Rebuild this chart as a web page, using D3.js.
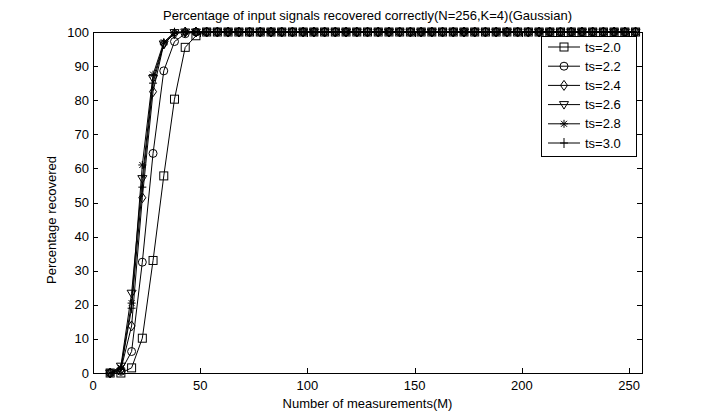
<!DOCTYPE html>
<html><head><meta charset="utf-8">
<script src="https://cdn.jsdelivr.net/npm/d3@7"></script>
<style>
body{margin:0;background:#fff;}
text{font-family:"Liberation Sans",Arial,sans-serif;font-size:13px;fill:#000;}
</style></head>
<body><svg id="c" width="712" height="420"></svg>
<script>
const measurements = [8,13,18,23,28,33,38,43,48,53,58,63,68,73,78,83,88,93,98,103,108,113,118,123,128,133,138,143,148,153,158,163,168,173,178,183,188,193,198,203,208,213,218,223,228,233,238,243,248,253];
const tail = n => Array(n).fill(100);
const ts20 = [0,0,1.5,10.2,33,57.8,80.3,95.5,98.9,100].concat(tail(40));
const ts22 = [0,0.5,6.3,32.5,64.4,88.6,97.2,99.5,100].concat(tail(41));
const ts24 = [0,1,13.8,51.4,82.5,96.5,99.5,100].concat(tail(42));
const ts26 = [0,2,23.4,57,86.4,96.5,99.8,100].concat(tail(42));
const ts28 = [0,1.5,20.5,61,87.5,97,100].concat(tail(43));
const ts30 = [0,1,19,54.5,85,96.5,99.8,100].concat(tail(42));
const seriesNames = ["ts=2.0","ts=2.2","ts=2.4","ts=2.6","ts=2.8","ts=3.0"];
const seriesValues = [ts20,ts22,ts24,ts26,ts28,ts30];
const markerTypes = ["square","circle","diamond","triangle","asterisk","plus"];
const xTicks = [0,50,100,150,200,250];
const yTicks = [0,10,20,30,40,50,60,70,80,90,100];
const titleText = "Percentage of input signals recovered correctly(N=256,K=4)(Gaussian)";
const xLabel = "Number of measurements(M)";
const yLabel = "Percentage recovered";

const L=93,R=642,T=32,B=373;
const svg=d3.select("#c");
const x=d3.scaleLinear().domain([0,256]).range([L,R]);
const y=d3.scaleLinear().domain([0,100]).range([B,T]);

const ax=svg.append("g").attr("shape-rendering","crispEdges");
ax.append("rect").attr("x",L+0.5).attr("y",T+0.5).attr("width",R-L).attr("height",B-T)
  .attr("fill","none").attr("stroke","#000");
const tl=5;
xTicks.forEach(t=>{
  const px=Math.round(x(t))+0.5;
  ax.append("line").attr("x1",px).attr("x2",px).attr("y1",B).attr("y2",B-tl).attr("stroke","#000");
  ax.append("line").attr("x1",px).attr("x2",px).attr("y1",T).attr("y2",T+tl).attr("stroke","#000");
  svg.append("text").attr("x",x(t)).attr("y",B+17).attr("text-anchor","middle").text(t);
});
yTicks.forEach(t=>{
  const py=Math.round(y(t))+0.5;
  ax.append("line").attr("x1",L).attr("x2",L+tl).attr("y1",py).attr("y2",py).attr("stroke","#000");
  ax.append("line").attr("x1",R).attr("x2",R-tl).attr("y1",py).attr("y2",py).attr("stroke","#000");
  svg.append("text").attr("x",L-4).attr("y",y(t)+4.5).attr("text-anchor","end").text(t);
});

function marker(g,type,cx,cy){
  const s="#000";
  if(type==="square") g.append("rect").attr("x",cx-4).attr("y",cy-4).attr("width",8).attr("height",8).attr("fill","none").attr("stroke",s);
  else if(type==="circle") g.append("circle").attr("cx",cx).attr("cy",cy).attr("r",4).attr("fill","none").attr("stroke",s);
  else if(type==="diamond") g.append("path").attr("d",`M${cx},${cy-5}L${cx+3.5},${cy}L${cx},${cy+5}L${cx-3.5},${cy}Z`).attr("fill","none").attr("stroke",s);
  else if(type==="triangle") g.append("path").attr("d",`M${cx-4.5},${cy-3}L${cx+4.5},${cy-3}L${cx},${cy+4.5}Z`).attr("fill","none").attr("stroke",s);
  else if(type==="asterisk") g.append("path").attr("d",`M${cx-4},${cy}H${cx+4}M${cx},${cy-4}V${cy+4}M${cx-3},${cy-3}L${cx+3},${cy+3}M${cx-3},${cy+3}L${cx+3},${cy-3}`).attr("fill","none").attr("stroke",s);
  else if(type==="plus") g.append("path").attr("d",`M${cx-4},${cy}H${cx+4}M${cx},${cy-5}V${cy+5}`).attr("fill","none").attr("stroke",s);
}

const line=d3.line().x((d,i)=>x(measurements[i])).y(d=>y(d));
seriesValues.forEach((vals,k)=>{
  const g=svg.append("g");
  g.append("path").datum(vals).attr("d",line).attr("fill","none").attr("stroke","#000").attr("stroke-width",1);
  vals.forEach((v,i)=>marker(g,markerTypes[k],x(measurements[i]),y(v)));
});

const lg=svg.append("g");
lg.append("rect").attr("x",541.5).attr("y",36.5).attr("width",95).attr("height",120).attr("fill","#fff").attr("stroke","#000").attr("shape-rendering","crispEdges");
seriesNames.forEach((n,k)=>{
  const yy=47+k*19.2;
  lg.append("line").attr("x1",548).attr("x2",580).attr("y1",yy).attr("y2",yy).attr("stroke","#000");
  marker(lg,markerTypes[k],564,yy);
  lg.append("text").attr("x",585).attr("y",yy+4.5).text(n);
});

svg.append("text").attr("x",(L+R)/2).attr("y",20).attr("text-anchor","middle").text(titleText);
svg.append("text").attr("x",(L+R)/2).attr("y",408).attr("text-anchor","middle").text(xLabel);
svg.append("text").attr("transform","translate(56,220) rotate(-90)").attr("text-anchor","middle").text(yLabel);
</script></body></html>
